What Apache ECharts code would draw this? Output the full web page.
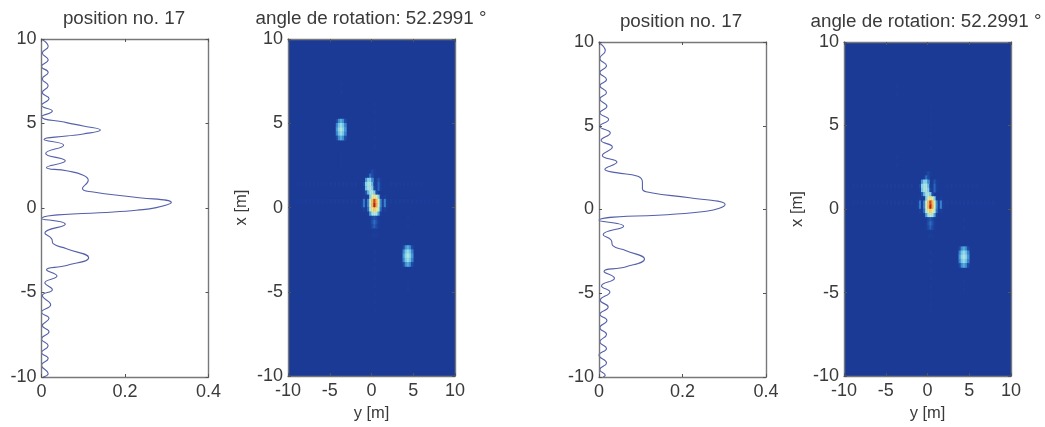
<!DOCTYPE html>
<html><head><meta charset="utf-8">
<style>html,body{margin:0;padding:0;background:#fff}#c{width:1045px;height:427px;filter:blur(0.7px)}</style>
<script src="https://cdn.jsdelivr.net/npm/echarts@6/dist/echarts.min.js"></script>
</head><body><div id="c"></div>
<script>
// Range profiles: [amplitude, x position in metres]
const profileLeft = [[.002,9.96],[.016,9.56],[.002,9.17],[.016,8.77],[0,8.38],[.016,8.02],[.002,7.64],[.016,7.23],[.002,6.83],[.018,6.48],[0,6.08],[.026,5.74],[0,5.41],[.06,5.05],[.1,4.85],[.141,4.61],[.1,4.38],[.06,4.26],[.006,4.06],[.053,3.72],[.01,3.23],[.057,2.79],[.012,2.4],[.06,2.2],[.1,1.94],[.112,1.64],[.098,1.15],[.124,.95],[.219,.65],[.311,.32],[.275,.02],[.227,-.13],[0,-.63],[.057,-.96],[.008,-1.48],[.024,-1.81],[.028,-2.11],[.06,-2.41],[.113,-2.94],[.06,-3.4],[.012,-3.66],[.037,-4.03],[.008,-4.43],[.026,-4.84],[.002,-5.18],[.022,-5.73],[0,-6.17],[.018,-6.53],[.002,-6.96],[.018,-7.32],[0,-7.75],[.016,-8.15],[0,-8.55],[.016,-8.9],[0,-9.3],[.016,-9.79],[.004,-10]];
const profileRight = [[0,9.96],[.015,9.48],[.002,9.02],[.018,8.58],[.002,8.18],[.018,7.76],[.002,7.39],[.018,6.99],[.002,6.59],[.019,6.17],[.002,5.77],[.023,5.37],[.002,4.97],[.027,4.57],[.005,4.13],[.032,3.73],[.008,3.23],[.043,2.83],[.014,2.4],[.041,2.2],[.093,1.98],[.104,1.64],[.104,1.24],[.125,1],[.217,.7],[.302,.3],[.257,-.1],[0,-.66],[.059,-1],[.01,-1.5],[.029,-1.82],[.033,-2.16],[.065,-2.46],[.109,-2.96],[.065,-3.42],[.012,-3.7],[.037,-4.1],[.006,-4.56],[.026,-4.92],[.003,-5.42],[.022,-5.82],[.002,-6.26],[.019,-6.62],[.002,-7.06],[.018,-7.46],[.002,-7.9],[.018,-8.3],[0,-8.7],[.018,-9.16],[.002,-9.56],[.015,-9.9],[.01,-10]];

const titleProfile = 'position no. 17';
const titleImage = 'angle de rotation: 52.2991 °';
const xName = 'y [m]', yName = 'x [m]';

// Image intensity patches (0..1). Each patch: first cell y, top row x (metres, cell centres, 0.25 m steps)
const coreYStart = -1.125, coreXStart = 2.125;
const coreCells = [
 [0,0,0,0,.07,.12,.07,0,0,0,0,0,0],
 [0,0,0,.1,.2,.12,0,0,0,0,0,0,0],
 [0,0,.28,.42,.42,.25,0,.06,.14,.06,0,0,0],
 [0,.12,.42,.5,.52,.35,.05,.08,.18,.08,0,0,0],
 [0,.1,.38,.5,.52,.42,.12,.08,.18,.08,0,0,0],
 [0,0,.15,.35,.5,.52,.4,.12,0,0,0,0,0],
 [0,.08,.02,.1,.42,.62,.7,.62,.42,.1,.02,.08,0],
 [.08,.22,.08,.25,.6,.78,.95,.8,.6,.25,.08,.24,.08],
 [.08,.22,.08,.25,.6,.8,1,.82,.6,.25,.08,.24,.08],
 [0,.1,.02,.2,.55,.68,.75,.68,.55,.2,.02,.1,0],
 [0,0,0,.05,.3,.5,.55,.5,.3,.05,0,0,0],
 [0,0,0,0,.03,.12,.15,.12,.03,0,0,0,0],
 [0,0,0,0,.05,.14,.2,.14,.05,0,0,0,0],
 [0,0,0,0,.03,.12,.17,.12,.03,0,0,0,0],
 [0,0,0,0,0,0,.03,0,0,0,0,0,0],
 [0,0,0,0,0,.03,.09,.03,0,0,0,0,0]
];
const blobCells = [
 [.12,.26,.32,.26,.12],
 [.24,.38,.46,.38,.24],
 [.28,.44,.52,.44,.28],
 [.24,.38,.46,.38,.24],
 [.12,.26,.32,.26,.12]
];
const blobUpper = [-4.125, 5.125];   // top-left cell of upper-left scatterer
const blobLower = [3.875, -2.375];   // top-left cell of lower-right scatterer
const blobLowerRight = [3.875, -2.375];

// Faint side-lobe ripple: [y, x, intensity]
const rippleCells = [
 [-8.875,.375,.03],[-8.375,.375,.03],[-7.875,.375,.03],[-7.375,.375,.04],[-6.875,.375,.04],[-6.375,.375,.04],[-5.875,.375,.04],[-5.375,.375,.04],[-4.875,.375,.05],[-4.375,.375,.05],[-3.875,.375,.05],[-3.375,.375,.06],[-2.875,.375,.06],[-2.375,.375,.07],[-1.875,.375,.08],
 [2.375,.375,.08],[2.875,.375,.07],[3.375,.375,.06],[3.875,.375,.05],[4.375,.375,.05],[4.875,.375,.05],[5.375,.375,.04],[5.875,.375,.04],[6.375,.375,.04],[6.875,.375,.03],[7.375,.375,.03],[7.875,.375,.03],
 [-8.875,1.375,.03],[-8.375,1.375,.03],[-7.875,1.375,.03],[-7.375,1.375,.04],[-6.875,1.375,.04],[-6.375,1.375,.04],[-5.875,1.375,.04],[-5.375,1.375,.04],[-4.875,1.375,.05],[-4.375,1.375,.05],[-3.875,1.375,.05],[-3.375,1.375,.05],[-2.875,1.375,.06],[-2.375,1.375,.06],[-1.875,1.375,.07],
 [2.375,1.375,.05],[2.875,1.375,.05],[3.375,1.375,.04],[3.875,1.375,.04],[4.375,1.375,.04],[4.875,1.375,.03],[5.375,1.375,.03],[5.875,1.375,.03],
 [.375,-2.625,.06],[.375,-3.125,.05],[.375,-3.625,.05],[.375,-4.125,.04],[.375,-4.625,.04],[.375,-5.125,.03],[.375,-5.625,.03],[.375,-6.125,.03],
 [.375,3.625,.05],[.375,4.125,.04],[.375,4.625,.04],[.375,5.125,.03],[.375,5.625,.03],[.375,6.125,.03],
 [-3.625,6.875,.03],[-3.625,7.375,.03],[-3.625,3.125,.03],[-3.625,2.625,.03],[4.375,-.625,.03],[4.375,-1.125,.03],[4.375,-4.375,.03],[4.375,-4.875,.03]
];

const colorStops = ['#1b3a96','#1c3f9c','#2a70c2','#4ca2da','#7ecdea','#a8e2e4','#d6edbe','#f4e47c','#f4b84c','#e66a2c','#b81e1e'];

const cellSize = .25;
const colOf = v => Math.round((v + 10) / cellSize - .5);
function patch(cells, y0, x0, out) {
  cells.forEach((row, r) => row.forEach((v, c) => {
    if (v > 0) out.push([colOf(y0 + c * cellSize), colOf(x0 - r * cellSize), v]);
  }));
}
function image(lowerBlob, upperBlob) {
  const out = [];
  rippleCells.forEach(t => out.push([colOf(t[0]), colOf(t[1]), t[2]]));
  patch(coreCells, coreYStart, coreXStart, out);
  patch(blobCells, lowerBlob[0], lowerBlob[1], out);
  if (upperBlob) patch(blobCells, upperBlob[0], upperBlob[1], out);
  return out;
}
const imageLeft = image(blobLower, blobUpper);
const imageRight = image(blobLowerRight, null);

const ink = '#3a3a3a', frame = '#77787c';
const bands = Array.from({length: 80}, (_, i) => i);
const panels = [
 {left: 41.5, top: 39, width: 167, height: 338, type: 'line', title: titleProfile, tx: 124, ty: 9, data: profileLeft},
 {left: 288, top: 39, width: 167, height: 338, type: 'heat', title: titleImage, tx: 371, ty: 9, data: imageLeft},
 {left: 599, top: 42, width: 167, height: 335, type: 'line', title: titleProfile, tx: 681, ty: 12, data: profileRight},
 {left: 844, top: 42, width: 167, height: 335, type: 'heat', title: titleImage, tx: 926, ty: 12, data: imageRight}
];
const grid = [], xAxis = [], yAxis = [], series = [], title = [], heatSeries = [];
const lineStyle = {color: frame, width: 1.4};
panels.forEach((p, g) => {
  const heat = p.type === 'heat';
  grid.push({left: p.left, top: p.top, width: p.width, height: p.height, show: heat, backgroundColor: colorStops[0], borderWidth: 0});
  title.push({text: p.title, left: p.tx, top: p.ty, padding: 0, textAlign: 'center', textStyle: {fontFamily: 'Liberation Sans', fontSize: 18.8, fontWeight: 'normal', color: ink}});
  const xBase = heat ? {min: -10, max: 10, interval: 5} : {min: 0, max: .4, interval: .2};
  const tick = {show: true, inside: true, length: 3, lineStyle: {color: '#555', width: 1}};
  const xi = xAxis.length, yi = yAxis.length;
  xAxis.push(Object.assign({}, xBase, {type: 'value', gridIndex: g, position: 'bottom', z: 5, splitLine: {show: false}, axisLine: {show: true, onZero: false, lineStyle}, axisTick: tick,
    axisLabel: {fontFamily: 'Liberation Sans', fontSize: 18, color: ink, margin: 6, showMinLabel: true, showMaxLabel: true, hideOverlap: false},
    name: heat ? xName : '', nameLocation: 'middle', nameGap: 27, nameTextStyle: {fontFamily: 'Liberation Sans', fontSize: 16.5, color: ink}}));
  xAxis.push(Object.assign({}, xBase, {type: 'value', gridIndex: g, position: 'top', z: 5, splitLine: {show: false}, axisLine: {show: true, onZero: false, lineStyle}, axisTick: tick, axisLabel: {show: false}}));
  yAxis.push({type: 'value', gridIndex: g, min: -10, max: 10, interval: 5, position: 'left', z: 5, splitLine: {show: false}, axisLine: {show: true, onZero: false, lineStyle}, axisTick: tick,
    axisLabel: {fontFamily: 'Liberation Sans', fontSize: 18, color: ink, margin: 5, showMinLabel: true, showMaxLabel: true, hideOverlap: false},
    name: heat ? yName : '', nameLocation: 'middle', nameGap: 38, nameTextStyle: {fontFamily: 'Liberation Sans', fontSize: 16.5, color: ink}});
  yAxis.push({type: 'value', gridIndex: g, min: -10, max: 10, interval: 5, position: 'right', z: 5, splitLine: {show: false}, axisLine: {show: true, onZero: false, lineStyle}, axisTick: tick, axisLabel: {show: false}});
  if (heat) {
    xAxis.push({type: 'category', gridIndex: g, data: bands, show: false});
    yAxis.push({type: 'category', gridIndex: g, data: bands, show: false});
    heatSeries.push(series.length);
    series.push({type: 'heatmap', xAxisIndex: xi + 2, yAxisIndex: yi + 2, data: p.data, silent: true, progressive: 0, emphasis: {disabled: true}});
  } else {
    series.push({type: 'line', xAxisIndex: xi, yAxisIndex: yi, data: p.data, showSymbol: false, smooth: .5, silent: true, lineStyle: {color: '#5460aa', width: 1.1}});
  }
});
const chart = echarts.init(document.getElementById('c'), null, {renderer: 'canvas'});
chart.setOption({animation: false, backgroundColor: '#fff', title, grid, xAxis, yAxis, series,
  visualMap: {type: 'continuous', show: false, min: 0, max: 1, seriesIndex: heatSeries, inRange: {color: colorStops}}});
</script></body></html>
